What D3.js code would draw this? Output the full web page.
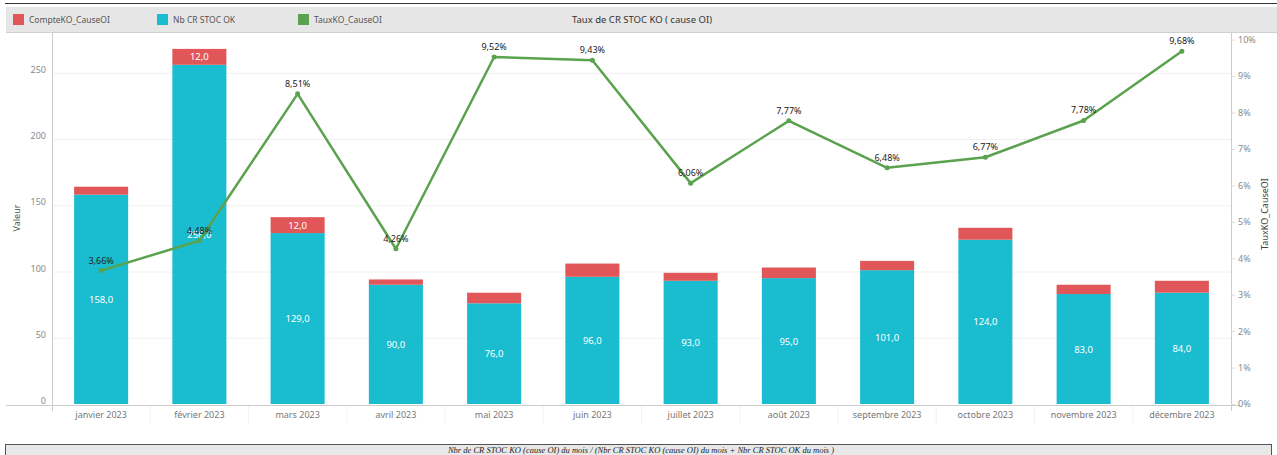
<!DOCTYPE html>
<html><head><meta charset="utf-8">
<script src="https://cdn.jsdelivr.net/npm/d3@7"></script>
<style>
body{margin:0;background:#fff;}
svg{display:block;font-family:"Noto Sans",sans-serif;}
</style></head>
<body><svg id="c" width="1277" height="455"></svg>
<script>
const months = ["janvier 2023","février 2023","mars 2023","avril 2023","mai 2023","juin 2023","juillet 2023","août 2023","septembre 2023","octobre 2023","novembre 2023","décembre 2023"];
const compteKO = [6,12,12,4,8,10,6,8,7,9,7,9];
const nbOK = [158,256,129,90,76,96,93,95,101,124,83,84];
const tauxKO = [0.0366,0.0448,0.0851,0.0426,0.0952,0.0943,0.0606,0.0777,0.0648,0.0677,0.0778,0.0968];
const leftTicks = [0,50,100,150,200,250];
const rightTicks = [0,0.01,0.02,0.03,0.04,0.05,0.06,0.07,0.08,0.09,0.10];

const svg = d3.select("#c");
const L = 52, R = 1231, T = 33, B = 404;
const cRed = "#e15759", cTeal = "#1abccf", cGreen = "#5ba24f";
const fmt = d3.format(".1f");
const fr = v => fmt(v).replace(".", ",");
const pct = v => d3.format(".2f")(v*100).replace(".", ",") + "%";

// header band
svg.append("line").attr("x1",5).attr("x2",1277).attr("y1",3.5).attr("y2",3.5).attr("stroke","#333").attr("stroke-width",1.2);
svg.append("rect").attr("x",6).attr("y",7).attr("width",1271).attr("height",25).attr("fill","#e6e6e6");
svg.append("line").attr("x1",6).attr("x2",1277).attr("y1",32.5).attr("y2",32.5).attr("stroke","#d0d0d0");

const legend = [["CompteKO_CauseOI",cRed,13],["Nb CR STOC OK",cTeal,157],["TauxKO_CauseOI",cGreen,298]];
legend.forEach(([t,c,x])=>{
  svg.append("rect").attr("x",x).attr("y",14).attr("width",11).attr("height",11).attr("fill",c);
  svg.append("text").attr("x",x+16).attr("y",23).attr("font-size",8.5).attr("fill","#555").text(t);
});
svg.append("text").attr("x",642).attr("y",23).attr("text-anchor","middle").attr("font-size",9.5).attr("fill","#333").text("Taux de CR STOC KO ( cause OI)");

const x = d3.scaleBand().domain(months).range([L,R]).paddingInner(0.45).paddingOuter(0.225);
const y = d3.scaleLinear().domain([0,280]).range([B,T]);
const y2 = d3.scaleLinear().domain([0,0.1018]).range([B,T]);

// gridlines
svg.append("g").selectAll("line").data(leftTicks.slice(1)).join("line")
  .attr("x1",L).attr("x2",R).attr("y1",d=>y(d)+0.5).attr("y2",d=>y(d)+0.5).attr("stroke","#f0f0f0");

// axes lines
svg.append("line").attr("x1",L+0.5).attr("x2",L+0.5).attr("y1",T).attr("y2",411).attr("stroke","#ccc");
svg.append("line").attr("x1",R+0.5).attr("x2",R+0.5).attr("y1",T).attr("y2",411).attr("stroke","#ccc");
svg.append("line").attr("x1",6).attr("x2",1240).attr("y1",B+1.5).attr("y2",B+1.5).attr("stroke","#ccc");
// category separators
svg.append("g").selectAll("line").data(months.slice(1)).join("line")
  .attr("x1",d=>x(d)-x.step()*x.paddingInner()/2).attr("x2",d=>x(d)-x.step()*x.paddingInner()/2)
  .attr("y1",B+2).attr("y2",424).attr("stroke","#f2f2f2");

// left axis
const ya = svg.append("g").attr("transform",`translate(${L},0)`)
  .call(d3.axisLeft(y).tickValues(leftTicks).tickSize(0).tickPadding(6));
ya.select(".domain").remove();
ya.selectAll("text").attr("font-size",9).attr("fill","#8a8a8a").attr("font-family","Noto Sans").attr("dy","-0.05em");
// right axis
const yb = svg.append("g").attr("transform",`translate(${R},0)`)
  .call(d3.axisRight(y2).tickValues(rightTicks).tickFormat(d=>Math.round(d*100)+"%").tickSize(4).tickPadding(3));
yb.select(".domain").remove();
yb.selectAll("line").attr("stroke","#ddd");
yb.selectAll("text").attr("font-size",9).attr("fill","#8a8a8a").attr("font-family","Noto Sans");
// x axis
const xa = svg.append("g").attr("transform",`translate(0,${B+2})`)
  .call(d3.axisBottom(x).tickSize(0).tickPadding(6));
xa.select(".domain").remove();
xa.selectAll("text").attr("font-size",9).attr("fill","#777").attr("font-family","Noto Sans");

// axis titles
svg.append("text").attr("transform","translate(20,218) rotate(-90)").attr("text-anchor","middle")
  .attr("font-size",9).attr("fill","#555").text("Valeur");
svg.append("text").attr("transform","translate(1268,214) rotate(-90)").attr("text-anchor","middle")
  .attr("font-size",9).attr("fill","#444").text("TauxKO_CauseOI");

// bars
const g = svg.append("g");
g.selectAll(".ok").data(months).join("rect")
  .attr("x",d=>x(d)).attr("width",x.bandwidth())
  .attr("y",(d,i)=>y(nbOK[i])).attr("height",(d,i)=>y(0)-y(nbOK[i])).attr("fill",cTeal);
g.selectAll(".ko").data(months).join("rect")
  .attr("x",d=>x(d)).attr("width",x.bandwidth())
  .attr("y",(d,i)=>y(nbOK[i]+compteKO[i])).attr("height",(d,i)=>y(nbOK[i])-y(nbOK[i]+compteKO[i])).attr("fill",cRed);
g.selectAll(".okl").data(months).join("text")
  .attr("x",d=>x(d)+x.bandwidth()/2).attr("y",(d,i)=>y(nbOK[i]/2)+3.5)
  .attr("text-anchor","middle").attr("font-size",9.5).attr("fill","#fff").text((d,i)=>fr(nbOK[i]));
g.selectAll(".kol").data(months.filter((d,i)=>y(nbOK[i])-y(nbOK[i]+compteKO[i])>14)).join("text")
  .attr("x",d=>x(d)+x.bandwidth()/2).attr("y",d=>{const i=months.indexOf(d);return y(nbOK[i]+compteKO[i]/2)+3.5;})
  .attr("text-anchor","middle").attr("font-size",9.5).attr("fill","#fff").text(d=>fr(compteKO[months.indexOf(d)]));

// line
const cx = d=>x(d)+x.bandwidth()/2;
svg.append("path").datum(months).attr("fill","none").attr("stroke",cGreen).attr("stroke-width",2.5)
  .attr("stroke-linejoin","round")
  .attr("d",d3.line().x(cx).y((d,i)=>y2(tauxKO[i])));
svg.append("g").selectAll("circle").data(months).join("circle")
  .attr("cx",cx).attr("cy",(d,i)=>y2(tauxKO[i])).attr("r",2.5).attr("fill",cGreen);
svg.append("g").selectAll("text").data(months).join("text")
  .attr("x",cx).attr("y",(d,i)=>y2(tauxKO[i])-7)
  .attr("text-anchor","middle").attr("font-size",9).attr("fill","#222").text((d,i)=>pct(tauxKO[i]));

// bottom caption
svg.append("rect").attr("x",5.5).attr("y",444.5).attr("width",1266).attr("height",12).attr("fill","#e8e8e8").attr("stroke","#555");
svg.append("text").attr("x",641).attr("y",453).attr("text-anchor","middle")
  .attr("font-family","Liberation Serif, serif").attr("font-style","italic").attr("font-size",8.5).attr("fill","#222")
  .text("Nbr de CR STOC KO (cause OI) du mois / (Nbr CR STOC KO (cause OI) du mois + Nbr CR STOC OK du mois )");
</script></body></html>
